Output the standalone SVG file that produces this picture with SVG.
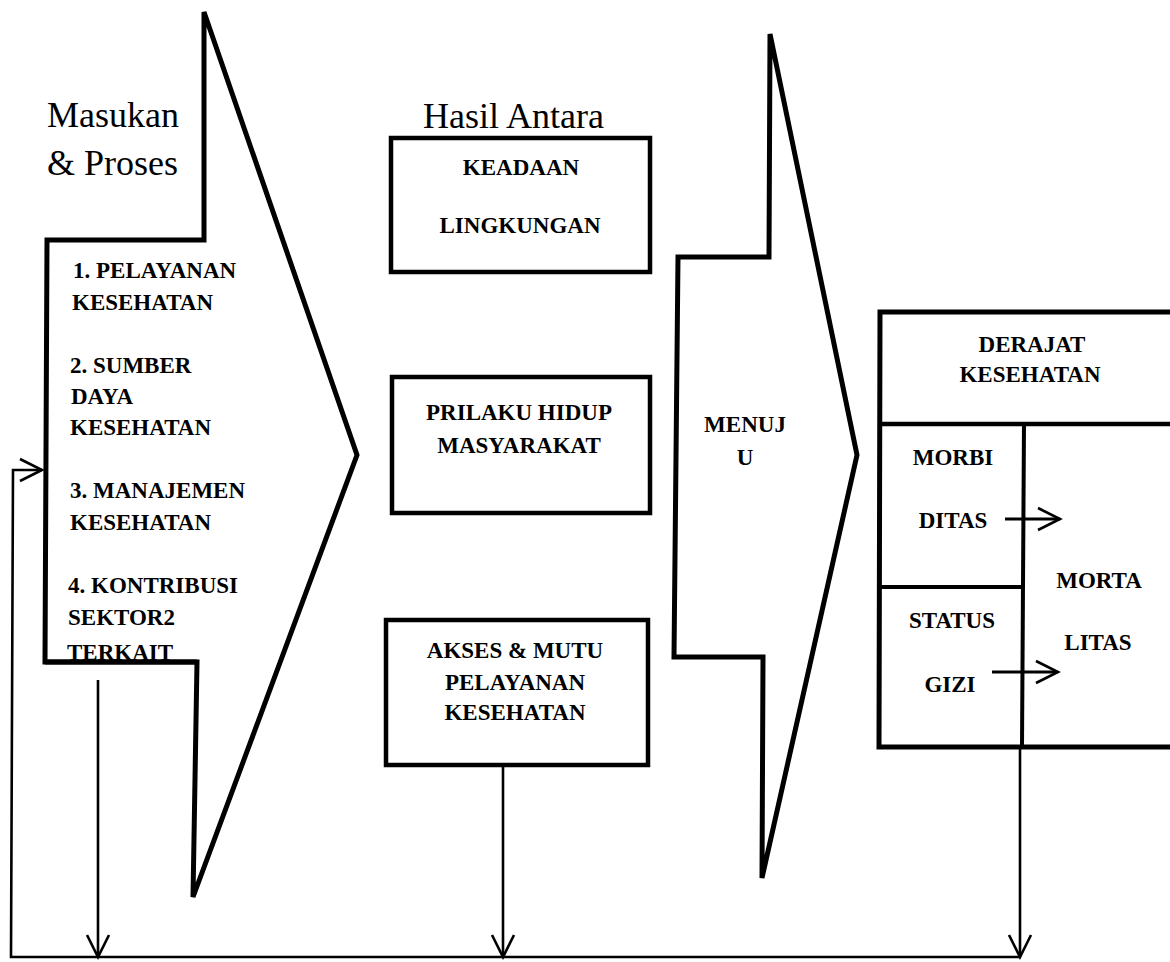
<svg xmlns="http://www.w3.org/2000/svg" width="1170" height="962" viewBox="0 0 1170 962">
<defs>
<marker id="v" markerUnits="userSpaceOnUse" viewBox="-3 -3 30 30" markerWidth="30" markerHeight="30" refX="22" refY="11" orient="auto">
<path d="M0,0 L22,11 L0,22" fill="none" stroke="#000" stroke-width="2.6"/>
</marker>
</defs>
<style>
.shape{fill:#fff;stroke:#000;stroke-width:5;stroke-linejoin:miter}
.box{fill:#fff;stroke:#000;stroke-width:4.5}
.ln{fill:none;stroke:#000;stroke-width:2.6}
.tl{fill:none;stroke:#000;stroke-width:3}
.t{font-family:"Liberation Serif","Times New Roman",serif;font-weight:bold;font-size:23px;fill:#000}
.c{text-anchor:middle}
.h{font-family:"Liberation Serif","Times New Roman",serif;font-size:36px;fill:#000}
</style>
<rect width="1170" height="962" fill="#fff"/>

<g id="masukan">
<polygon class="shape" points="204,12 357,455 193,897 197,662 45,662 47,240 204,240"/>
<text class="h" x="47" y="127">Masukan</text>
<text class="h" x="47" y="175">&amp; Proses</text>
<text class="t" x="73" y="278">1. PELAYANAN</text>
<text class="t" x="72" y="310">KESEHATAN</text>
<text class="t" x="70" y="373">2. SUMBER</text>
<text class="t" x="71" y="404">DAYA</text>
<text class="t" x="70" y="435">KESEHATAN</text>
<text class="t" x="70" y="498">3. MANAJEMEN</text>
<text class="t" x="70" y="530">KESEHATAN</text>
<text class="t" x="68" y="593">4. KONTRIBUSI</text>
<text class="t" x="68" y="625">SEKTOR2</text>
<text class="t" x="67" y="660">TERKAIT</text>
<line x1="45" y1="662" x2="197" y2="662" stroke="#000" stroke-width="5"/>
</g>

<g id="hasil-antara-label">
<text class="h" x="423" y="128">Hasil Antara</text>
</g>

<g id="lingkungan">
<rect class="box" x="391" y="138" width="259" height="134"/>
<text class="t c" x="521" y="175">KEADAAN</text>
<text class="t c" x="520" y="233">LINGKUNGAN</text>
</g>

<g id="prilaku">
<rect class="box" x="392" y="377" width="258" height="136"/>
<text class="t c" x="519" y="420">PRILAKU HIDUP</text>
<text class="t c" x="519" y="453">MASYARAKAT</text>
</g>

<g id="akses">
<rect class="box" x="386" y="620" width="262" height="145"/>
<text class="t c" x="515" y="658">AKSES &amp; MUTU</text>
<text class="t c" x="515" y="690">PELAYANAN</text>
<text class="t c" x="515" y="720">KESEHATAN</text>
</g>

<g id="menuju">
<polygon class="shape" points="770,34 857,455 762,878 763,657 674,657 678,257 769,257"/>
<text class="t c" x="745" y="432">MENUJ</text>
<text class="t c" x="745" y="465">U</text>
</g>

<g id="derajat">
<path d="M1175,312 L880,312 L879,747 L1175,747" fill="#fff" stroke="#000" stroke-width="5"/>
<line x1="880" y1="424" x2="1175" y2="424" stroke="#000" stroke-width="4.5"/>
<line x1="1024" y1="424" x2="1022" y2="747" stroke="#000" stroke-width="4"/>
<line x1="880" y1="587" x2="1024" y2="587" stroke="#000" stroke-width="4"/>
<text class="t c" x="1032" y="352">DERAJAT</text>
<text class="t c" x="1030" y="382">KESEHATAN</text>
<text class="t c" x="953" y="465">MORBI</text>
<text class="t c" x="953" y="528">DITAS</text>
<text class="t c" x="952" y="628">STATUS</text>
<text class="t c" x="950" y="692">GIZI</text>
<text class="t c" x="1099" y="588">MORTA</text>
<text class="t c" x="1098" y="650">LITAS</text>
</g>

<g id="connectors">
<line class="tl" x1="1005" y1="519" x2="1060" y2="519" marker-end="url(#v)"/>
<line class="tl" x1="992" y1="672" x2="1058" y2="672" marker-end="url(#v)"/>
<polyline class="ln" points="1020,957 11,957 13,470 42,470" marker-end="url(#v)"/>
<line class="ln" x1="98" y1="680" x2="98" y2="957" marker-end="url(#v)"/>
<line class="ln" x1="503" y1="765" x2="503" y2="957" marker-end="url(#v)"/>
<line class="ln" x1="1020" y1="749" x2="1020" y2="957" marker-end="url(#v)"/>
</g>
</svg>
